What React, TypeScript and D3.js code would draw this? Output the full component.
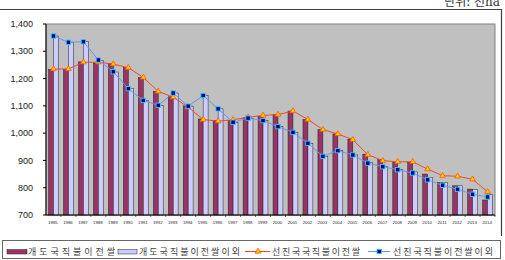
import * as d3 from 'd3';

// years on the x axis
const years = [
  '1985', '1986', '1987', '1988', '1989', '1990', '1991', '1992', '1993', '1994',
  '1995', '1996', '1997', '1998', '1999', '2000', '2001', '2002', '2003', '2004',
  '2005', '2006', '2007', '2008', '2009', '2010', '2011', '2012', '2013', '2014',
];

// 개도국직불이전쌀 (bars)
const devRice = [
  1233, 1233, 1261, 1257, 1255, 1240, 1204, 1153, 1135, 1100,
  1052, 1047, 1047, 1056, 1062, 1068, 1081, 1050, 1013, 997,
  978, 923, 903, 893, 893, 850, 819, 807, 795, 755,
];
// 개도국직불이전쌀이외 (bars)
const devOther = [
  1356, 1333, 1335, 1267, 1224, 1163, 1120, 1102, 1147, 1099,
  1138, 1089, 1040, 1055, 1046, 1024, 1003, 963, 915, 936,
  920, 892, 878, 866, 858, 837, 820, 807, 793, 776,
];
// 선진국국직불이전쌀 (line, triangles)
const advRice = [
  1235, 1235, 1260, 1260, 1253, 1240, 1204, 1153, 1132, 1095,
  1050, 1044, 1049, 1058, 1065, 1068, 1081, 1050, 1013, 997,
  976, 921, 899, 895, 895, 868, 844, 842, 831, 785,
];
// 선진국직불이전쌀이외 (line, squares)
const advOther = [
  1356, 1333, 1335, 1268, 1225, 1163, 1120, 1102, 1147, 1099,
  1138, 1089, 1040, 1055, 1046, 1024, 1003, 963, 915, 936,
  920, 890, 877, 866, 854, 829, 809, 794, 776, 766,
];

const yTicks = [700, 800, 900, 1000, 1100, 1200, 1300, 1400];

const legendLabels = [
  '개도국직불이전쌀',
  '개도국직불이전쌀이외',
  '선진국국직불이전쌀',
  '선진국직불이전쌀이외',
];

const MAROON = '#993366';
const LAVENDER = '#CCCCFF';
const RED = '#F04828';
const BLUE = '#6A95E8';

export default function App() {
  const left = 46;
  const right = 495;
  const top = 24;
  const bottom = 215;

  const x = d3.scaleBand().domain(years).range([left, right]);
  const y = d3.scaleLinear().domain([700, 1400]).range([bottom, top]);
  const bw = x.bandwidth();
  const barW = bw * 0.33;
  const cx = (i: number) => (x(years[i]) as number) + bw / 2;

  const line = d3
    .line<number>()
    .x((_, i) => cx(i))
    .y((d) => y(d));

  const triangle = d3.symbol().type(d3.symbolTriangle).size(14)();
  const label = { fontFamily: '"Liberation Sans", Arial, sans-serif' };

  return (
    <svg
      width={505}
      height={260}
      style={{ position: 'absolute', left: 0, top: 0, background: '#fff' }}
    >
      {/* unit note, cut at the top */}
      <text
        x={500}
        y={6}
        textAnchor='end'
        fontSize={12}
        fill='#333'
        fontFamily='"DejaVu Serif", "Noto Sans CJK KR", serif'
      >
        단위: 천ha
      </text>

      {/* outer frame */}
      <path d='M0,9.5 H501.5 V236' fill='none' stroke='#404040' strokeWidth={1.2} />

      {/* plot area */}
      <rect
        x={left}
        y={top}
        width={right - left}
        height={bottom - top}
        fill='#C0C0C0'
        stroke='#808080'
        strokeWidth={1}
      />

      {/* bars */}
      {years.map((yr, i) => (
        <g key={yr}>
          <rect
            x={cx(i) - barW}
            y={y(devRice[i])}
            width={barW}
            height={bottom - y(devRice[i])}
            fill={MAROON}
            stroke='#222'
            strokeWidth={0.5}
          />
          <rect
            x={cx(i)}
            y={y(devOther[i])}
            width={barW}
            height={bottom - y(devOther[i])}
            fill={LAVENDER}
            stroke='#222'
            strokeWidth={0.5}
          />
        </g>
      ))}

      {/* axes */}
      <line x1={left} x2={left} y1={top} y2={bottom} stroke='#000' />
      <line x1={left} x2={right} y1={bottom} y2={bottom} stroke='#000' />
      {yTicks.map((t) => (
        <g key={t}>
          <line x1={left - 3} x2={left} y1={y(t)} y2={y(t)} stroke='#000' />
          <text
            x={33}
            y={y(t)}
            dy='0.35em'
            textAnchor='end'
            fontSize={9}
            fill='#222'
            {...label}
          >
            {d3.format(',')(t)}
          </text>
        </g>
      ))}
      {years.map((yr, i) => (
        <g key={'t' + yr}>
          <line
            x1={(x(yr) as number) + bw}
            x2={(x(yr) as number) + bw}
            y1={bottom}
            y2={bottom + 2}
            stroke='#000'
            strokeWidth={0.6}
          />
          <text
            x={cx(i) - 0.5}
            y={224}
            textAnchor='middle'
            fontSize={4.3}
            fill='#222'
            {...label}
          >
            {yr}
          </text>
        </g>
      ))}

      {/* lines */}
      <path d={line(advRice) ?? undefined} fill='none' stroke={RED} strokeWidth={1} />
      <path d={line(advOther) ?? undefined} fill='none' stroke={BLUE} strokeWidth={1} />
      {advRice.map((v, i) => (
        <path
          key={'r' + i}
          d={triangle ?? undefined}
          transform={`translate(${cx(i)},${y(v)})`}
          fill='#FFCC00'
          stroke='#FF5500'
          strokeWidth={0.8}
        />
      ))}
      {advOther.map((v, i) => (
        <rect
          key={'b' + i}
          x={cx(i) - 2.2}
          y={y(v) - 2.2}
          width={4.4}
          height={4.4}
          fill='#000080'
          stroke='#33CCFF'
          strokeWidth={0.9}
        />
      ))}

      {/* legend */}
      <rect x={2.5} y={240.5} width={498} height={18} fill='#fff' stroke='#666' />
      <rect x={7} y={249.5} width={20} height={4.5} fill={MAROON} stroke='#222' strokeWidth={0.5} />
      <rect x={118} y={249.5} width={19} height={4.5} fill={LAVENDER} stroke='#222' strokeWidth={0.5} />
      <line x1={245} x2={270} y1={251.5} y2={251.5} stroke={RED} />
      <path d={triangle ?? undefined} transform='translate(258,251.5)' fill='#FFCC00' stroke='#FF5500' strokeWidth={0.8} />
      <line x1={368} x2={390} y1={251.5} y2={251.5} stroke={BLUE} />
      <rect x={377} y={249.3} width={4.4} height={4.4} fill='#000080' stroke='#33CCFF' strokeWidth={0.9} />
      {[
        { x: 28, w: 87 },
        { x: 139, w: 101 },
        { x: 272, w: 88 },
        { x: 393, w: 100 },
      ].map((p, i) => (
        <text
          key={legendLabels[i]}
          x={p.x}
          y={251.5}
          dy='0.35em'
          fontSize={9}
          fill='#444'
          textLength={p.w}
          lengthAdjust='spacing'
          fontFamily='"Noto Sans CJK KR", sans-serif'
        >
          {legendLabels[i]}
        </text>
      ))}
    </svg>
  );
}
